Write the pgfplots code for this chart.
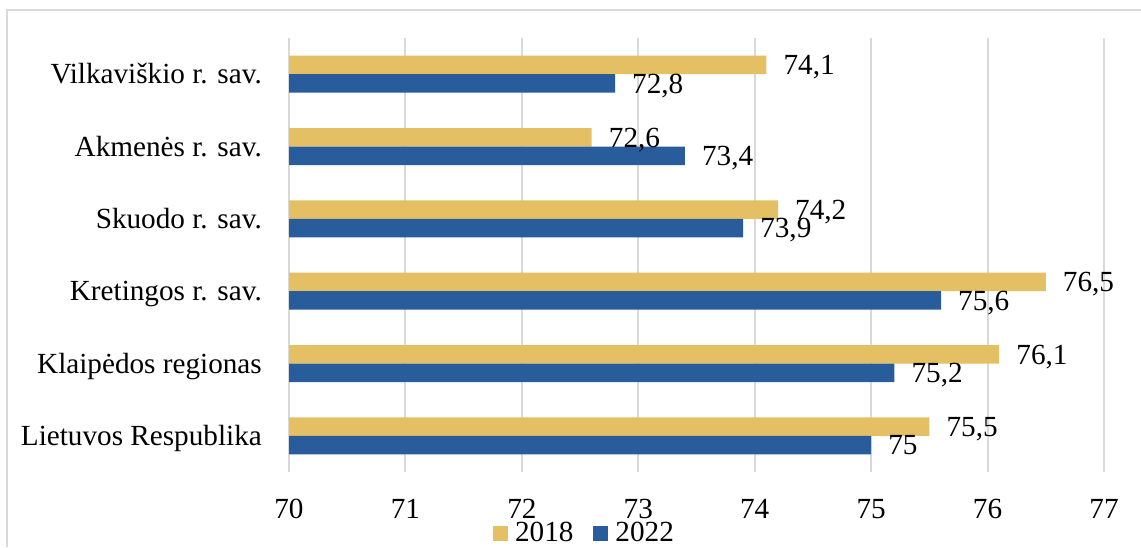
\documentclass[border=0pt]{standalone}
\usepackage{fontspec}
\setmainfont{Liberation Serif}
\usepackage{pgfplots}
\pgfplotsset{compat=1.18}
\definecolor{gold}{HTML}{E5BF63}
\definecolor{navy}{HTML}{285C9A}
\definecolor{gridgray}{HTML}{D9D9D9}
\newcommand\fs{\fontsize{29.2}{34}\selectfont}
\begin{document}
\begin{tikzpicture}[x=1pt,y=1pt]
\useasboundingbox (0,0) rectangle (1141,547);
\draw[gridgray, line width=1.5pt] (7,0) -- (7,537) -- (1141,537);
\begin{axis}[
  at={(289pt,75pt)}, anchor=south west,
  scale only axis, width=815pt, height=434pt,
  xmin=70, xmax=77, ymin=-0.5, ymax=5.5,
  xbar, bar width=18.5pt,
  xtick={70,...,77}, ytick={0,...,5},
  yticklabels={Lietuvos Respublika, Klaipėdos regionas, Kretingos r. sav., Skuodo r. sav., Akmenės r. sav., Vilkaviškio r. sav.},
  xmajorgrids, major grid style={gridgray, line width=2pt},
  axis line style={draw=none}, major tick length=0pt,
  ticklabel style={font=\fs, inner sep=0pt},
  /pgf/number format/assume math mode=true,
  xticklabel style={anchor=base, yshift=-46pt},
  yticklabel style={anchor=base east, xshift=-27pt, yshift=-9.7pt},
  legend columns=2,
  legend style={at={(0.3613,-0.1406)}, anchor=center, draw=none, fill=none, font=\fs,
    inner sep=0pt, nodes={inner sep=0pt, text=black},
    /tikz/every odd column/.append style={column sep=7pt},
    /tikz/every even column/.append style={column sep=20pt}},
]
\addplot[fill=gold, draw=none, bar shift=9.25pt,
  legend image code/.code={\fill[gold] (0pt,-7.5pt) rectangle (15pt,7.5pt);}]
  coordinates {(75.5,0) (76.1,1) (76.5,2) (74.2,3) (72.6,4) (74.1,5)};
\addlegendentry{2018}
\addplot[fill=navy, draw=none, bar shift=-9.25pt,
  legend image code/.code={\fill[navy] (0pt,-7.5pt) rectangle (15pt,7.5pt);}]
  coordinates {(75,0) (75.2,1) (75.6,2) (73.9,3) (73.4,4) (72.8,5)};
\addlegendentry{2022}
\addplot[draw=none, fill=none, bar shift=9.25pt, forget plot, point meta=x,
  nodes near coords={\pgfmathprintnumber[use comma, fixed, precision=1, assume math mode=true]{\pgfplotspointmeta}},
  nodes near coords style={font=\fs, anchor=base west, inner sep=0pt, xshift=17pt, yshift=-9.8pt, text=black}]
  coordinates {(75.5,0) (76.1,1) (76.5,2) (74.2,3) (72.6,4) (74.1,5)};
\addplot[draw=none, fill=none, bar shift=-9.25pt, forget plot, point meta=x,
  nodes near coords={\pgfmathprintnumber[use comma, fixed, precision=1, assume math mode=true]{\pgfplotspointmeta}},
  nodes near coords style={font=\fs, anchor=base west, inner sep=0pt, xshift=17pt, yshift=-9.8pt, text=black}]
  coordinates {(75,0) (75.2,1) (75.6,2) (73.9,3) (73.4,4) (72.8,5)};
\end{axis}
\end{tikzpicture}
\end{document}
